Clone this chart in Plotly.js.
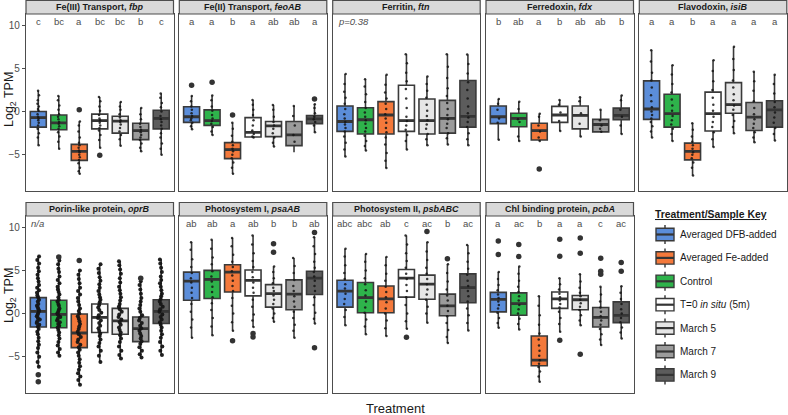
<!DOCTYPE html>
<html><head><meta charset="utf-8">
<script src="https://cdn.plot.ly/plotly-3.0.1.min.js"></script>
<style>html,body{margin:0;padding:0;background:#fff}#chart{width:788px;height:415px}</style>
</head><body><div id="chart"></div>
<script>
// ---------------- DATA ----------------
const treatments = ['Averaged DFB-added','Control','Averaged Fe-added','T=0 in situ (5m)','March 5','March 7','March 9'];
const legendLabels = ['Averaged DFB-added','Averaged Fe-added','Control','T=0 <i>in situ</i> (5m)','March 5','March 7','March 9'];
const legendIndex = [0,2,1,3,4,5,6];
const panelTitles = ['Fe(III) Transport, <i>fbp</i>','Fe(II) Transport, <i>feoAB</i>','Ferritin, <i>ftn</i>','Ferredoxin, <i>fdx</i>','Flavodoxin, <i>isiB</i>',
  'Porin-like protein, <i>oprB</i>','Photosystem I, <i>psaAB</i>','Photosystem II, <i>psbABC</i>','Chl binding protein, <i>pcbA</i>'];
const panelNotes = ['','','p=0.38','','','n/a','','',''];
const letters = [
  ['c','bc','a','bc','bc','b','c'],
  ['a','a','b','a','ab','ab','a'],
  [],
  ['b','ab','a','b','ab','ab','b'],
  ['a','a','b','a','a','a','a'],
  [],
  ['ab','ab','a','ab','b','b','ab'],
  ['abc','abc','ab','c','ac','b','ac'],
  ['a','ac','b','a','a','c','ac']
];
const upperWhisker = [
  [2.4,1.8,-1.15,1.7,1.1,0.4,2.1],
  [1.8,1.85,-1.3,1.35,0.75,0.65,0.85],
  [4.35,3.75,4.25,6.65,4.05,6.65,6.6],
  [1.45,1.15,-0.25,1.35,1.65,0.2,1.85],
  [7.1,5.35,-1.35,5.95,7.5,4.6,4.25],
  [6.65,6.15,5.0,5.7,6.05,3.75,6.25],
  [8.25,8.55,8.75,9.05,5.45,6.45,8.85],
  [7.5,6.9,6.55,9.05,8.25,5.7,7.95],
  [4.8,5.45,2.0,4.1,4.55,3.1,3.15]
];
const upperQuartile = [
  [0,-0.4,-3.8,-0.3,-0.55,-1.35,0.15],
  [0.55,0.2,-3.6,-0.7,-1.15,-1.15,-0.45],
  [0.65,0.45,1.15,3.05,1.45,1.3,3.6],
  [0.65,-0.2,-1.35,0.6,0.65,-0.9,0.4],
  [3.55,2.0,-3.65,2.25,3.35,1.05,1.25],
  [1.85,1.55,-0.05,1.1,0.6,-0.4,1.6],
  [4.8,5.0,5.65,5.05,3.35,3.9,4.9],
  [3.85,3.6,3.2,5.1,4.45,2.25,4.6],
  [2.45,2.4,-2.6,2.5,2.1,0.7,1.35]
];
const medians = [
  [-0.7,-1.3,-4.6,-1.05,-1.1,-2.2,-0.8],
  [-0.6,-1.05,-4.4,-2.4,-1.65,-2.7,-0.85],
  [-1.15,-0.95,-0.4,-1.05,-1.05,-0.8,-0.55],
  [-0.6,-0.8,-2.2,-0.4,-0.45,-1.5,-0.45],
  [0.3,-0.25,-4.6,-0.25,0.8,-0.65,0.2],
  [0.25,-0.1,-2.25,-0.45,-0.85,-1.75,0.25],
  [3.75,3.95,4.8,3.85,2.3,2.25,4.1],
  [2.6,1.85,1.7,4.1,3.4,0.9,3.0],
  [1.65,1.15,-5.4,1.7,1.6,-0.45,-0.2]
];
const lowerQuartile = [
  [-1.8,-2.1,-5.65,-2.0,-2.5,-3.25,-2.0],
  [-1.25,-1.6,-5.45,-2.95,-2.9,-3.95,-1.4],
  [-2.3,-2.6,-2.6,-2.3,-2.6,-2.5,-1.8],
  [-1.4,-1.75,-3.3,-1.25,-2.0,-2.35,-0.95],
  [-0.9,-1.8,-5.6,-2.25,-0.2,-2.2,-1.8],
  [-1.55,-1.65,-3.95,-2.2,-2.4,-3.25,-1.15],
  [1.55,1.75,2.5,2.05,0.75,0.45,2.2],
  [0.75,0.1,0.1,1.9,1.65,-0.25,1.25],
  [0.2,-0.2,-6.05,0.6,0.45,-1.55,-1.05]
];
const lowerWhisker = [
  [-3.9,-4.3,-7.2,-4.2,-3.95,-4.6,-5.0],
  [-2.05,-2.7,-7.2,-3.0,-4.05,-4.7,-2.4],
  [-5.2,-4.5,-6.55,-4.4,-3.9,-3.8,-3.9],
  [-3.25,-3.4,-3.4,-2.25,-2.9,-2.35,-2.6],
  [-3.0,-3.4,-7.4,-4.1,-2.5,-3.55,-3.35],
  [-6.15,-4.9,-8.25,-5.6,-5.2,-5.1,-4.8],
  [-2.8,-2.5,-2.0,-1.55,-0.95,-2.8,-1.15],
  [-1.35,-2.4,-2.6,-1.75,-1.05,-3.4,-1.95],
  [-1.65,-1.85,-7.9,-2.1,-1.35,-3.65,-2.9]
];
const outliers = [
  [[],[],[0.2],[-5.05],[],[],[]],
  [[3.05],[3.4],[-0.4],[],[],[],[1.45]],
  [[],[],[],[],[],[],[]],
  [[],[],[-6.65],[],[],[],[]],
  [[],[],[],[],[],[],[]],
  [[-7.1,-7.9],[6.55],[6.15],[],[],[4.1],[]],
  [[],[],[-3.15],[-2.3,-2.7],[8.1,7.1],[],[9.4,-3.95]],
  [[],[],[],[-2.75],[9.5],[6.35],[]],
  [[8.4,6.85],[8.0,6.6],[],[8.6,6.65,-3.1],[8.75,7.0,-4.7],[6.4,4.9,4.55],[5.9,4.9]]
];
const ptsFbp = [
  [2.4,1.9,1.3,0.9,0.6,0.3,0.1,-0.3,-0.6,-0.8,-1.0,-1.3,-1.6,-2.0,-2.5,-3.0,-3.9],
  [1.8,1.3,0.7,0.2,-0.3,-0.6,-0.9,-1.2,-1.4,-1.7,-2.0,-2.4,-2.9,-3.5,-4.3],
  [-1.15,-1.6,-2.3,-3.0,-3.6,-3.9,-4.2,-4.5,-4.7,-5.0,-5.3,-5.6,-6.0,-6.5,-6.9,-7.2],
  [1.7,1.2,0.6,0.1,-0.4,-0.8,-1.0,-1.3,-1.6,-1.9,-2.2,-2.7,-3.3,-4.2],
  [1.1,0.6,0.2,-0.3,-0.7,-1.0,-1.2,-1.5,-1.9,-2.3,-2.7,-3.2,-3.95],
  [0.4,-0.3,-0.9,-1.4,-1.8,-2.1,-2.4,-2.7,-3.0,-3.3,-3.7,-4.2,-4.6],
  [2.1,1.6,1.0,0.5,0.0,-0.5,-0.9,-1.2,-1.6,-2.0,-2.5,-3.0,-3.7,-4.3,-5.0]
];
const ptsFeoAB = [
  [1.8,1.2,0.6,0.2,-0.2,-0.5,-0.8,-1.0,-1.3,-1.7,-2.05],
  [1.85,1.3,0.6,0.1,-0.4,-0.8,-1.1,-1.4,-1.8,-2.3,-2.7],
  [-1.3,-2.0,-2.8,-3.5,-3.9,-4.3,-4.6,-5.0,-5.4,-5.9,-6.5,-7.2],
  [1.35,0.8,0.2,-0.4,-1.0,-1.6,-2.2,-2.6,-2.9,-3.0],
  [0.75,0.2,-0.6,-1.2,-1.6,-2.0,-2.5,-3.0,-3.6,-4.05],
  [0.65,-0.5,-1.6,-2.7,-3.5],
  [0.85,0.4,-0.2,-0.6,-0.9,-1.2,-1.6,-2.4]
];
const ptsFtn = [
  [4.35,3.2,2.3,1.6,0.9,0.3,-0.3,-0.8,-1.2,-1.5,-1.9,-2.3,-2.9,-3.6,-4.4,-5.2],
  [3.75,2.9,2.0,1.1,0.4,-0.1,-0.6,-1.0,-1.4,-1.9,-2.3,-2.8,-3.4,-4.0,-4.5],
  [4.25,3.1,2.2,1.5,0.9,0.3,-0.3,-0.8,-1.3,-1.9,-2.4,-3.0,-3.8,-4.8,-5.7,-6.55],
  [6.65,5.6,4.5,3.5,2.6,1.5,0.4,-0.6,-1.1,-1.6,-2.1,-2.7,-3.4,-4.4],
  [4.05,3.2,2.4,1.6,0.8,0.1,-0.5,-1.0,-1.5,-2.0,-2.6,-3.2,-3.9],
  [6.65,5.2,3.9,2.7,1.8,1.0,0.3,-0.4,-0.9,-1.4,-1.9,-2.5,-3.1,-3.8],
  [6.6,5.5,4.4,3.4,2.5,1.5,0.6,-0.2,-0.7,-1.2,-1.8,-2.5,-3.2,-3.9]
];
const ptsFdx = [
  [1.45,0.9,0.2,-0.8,-1.3,-3.25],
  [1.15,0.3,-0.9,-1.2,-2.9,-3.4],
  [-0.25,-0.6,-1.6,-2.3,-3.0,-3.4],
  [1.35,0.8,-0.1,-1.1,-2.25],
  [1.65,1.2,-0.2,-1.4,-2.9],
  [0.2,-1.0,-1.6,-2.0,-2.35],
  [1.85,1.3,0.2,-0.6,-1.6,-2.6]
];
const ptsIsiB = [
  [7.1,5.8,4.5,3.6,2.8,1.9,1.2,0.5,0.0,-0.4,-0.8,-1.2,-1.7,-2.3,-3.0],
  [5.35,4.3,3.2,2.2,1.4,0.7,0.1,-0.5,-1.0,-1.5,-2.0,-2.6,-3.4],
  [-1.35,-2.1,-2.9,-3.5,-3.9,-4.3,-4.7,-5.0,-5.4,-5.9,-6.5,-7.4],
  [5.95,4.7,3.5,2.5,1.6,0.8,0.1,-0.6,-1.2,-1.8,-2.4,-3.2,-4.1],
  [7.5,6.1,4.8,3.6,2.8,2.0,1.3,0.7,0.2,-0.4,-1.1,-1.8,-2.5],
  [4.6,3.5,2.4,1.2,0.4,-0.3,-0.9,-1.4,-1.9,-2.4,-3.0,-3.55],
  [4.25,3.2,2.1,1.1,0.5,-0.1,-0.7,-1.3,-1.9,-2.6,-3.35]
];
const ptsOprB = [
  [6.6,6.2,5.8,5.3,4.9,4.5,4.1,3.7,3.3,3.0,2.7,2.4,2.1,1.9,1.6,1.4,1.1,0.9,0.7,0.5,0.3,0.1,-0.1,-0.3,-0.5,-0.7,-0.9,-1.1,-1.3,-1.5,-1.8,-2.1,-2.4,-2.8,-3.2,-3.6,-4.0,-4.5,-5.0,-5.6,-6.15],
  [6.15,5.7,5.2,4.8,4.3,3.9,3.5,3.1,2.8,2.5,2.2,1.9,1.6,1.4,1.1,0.9,0.6,0.4,0.2,0.0,-0.2,-0.4,-0.6,-0.8,-1.0,-1.2,-1.4,-1.6,-1.9,-2.2,-2.5,-2.9,-3.3,-3.7,-4.1,-4.5,-4.9],
  [5.0,4.5,4.0,3.5,3.0,2.6,2.2,1.8,1.4,1.0,0.6,0.3,0.0,-0.3,-0.6,-0.9,-1.2,-1.5,-1.8,-2.1,-2.4,-2.7,-3.0,-3.3,-3.6,-3.9,-4.2,-4.5,-4.9,-5.3,-5.7,-6.1,-6.5,-6.9,-7.3,-7.7,-8.25],
  [5.7,5.2,4.7,4.2,3.8,3.4,3.0,2.6,2.2,1.9,1.6,1.3,1.0,0.7,0.4,0.1,-0.2,-0.5,-0.8,-1.1,-1.4,-1.7,-2.0,-2.3,-2.6,-3.0,-3.4,-3.8,-4.3,-4.9,-5.6],
  [6.05,5.6,5.1,4.6,4.1,3.6,3.1,2.7,2.3,1.9,1.5,1.1,0.8,0.5,0.2,-0.1,-0.4,-0.7,-1.0,-1.3,-1.6,-1.9,-2.2,-2.5,-2.9,-3.3,-3.8,-4.3,-4.8,-5.2],
  [3.75,3.3,2.8,2.3,1.8,1.4,1.0,0.6,0.2,-0.2,-0.5,-0.8,-1.1,-1.4,-1.7,-2.0,-2.3,-2.6,-2.9,-3.2,-3.5,-3.9,-4.3,-4.7,-5.1],
  [6.25,5.8,5.3,4.8,4.3,3.9,3.5,3.1,2.7,2.3,2.0,1.7,1.4,1.1,0.8,0.5,0.2,-0.1,-0.4,-0.7,-1.0,-1.3,-1.6,-2.0,-2.4,-2.8,-3.3,-3.8,-4.3,-4.8]
];
const ptsPsaAB = [
  [8.25,7.4,6.3,5.4,4.7,4.1,3.6,3.0,2.4,1.8,1.1,0.2,-0.7,-1.6,-2.8],
  [8.55,7.5,6.5,5.7,4.9,4.3,3.7,3.1,2.5,1.9,1.2,0.4,-0.5,-1.5,-2.5],
  [8.75,7.8,6.8,6.0,5.4,4.9,4.4,3.8,3.2,2.6,1.8,0.9,0.0,-1.0,-2.0],
  [9.05,8.0,7.0,6.1,5.4,4.8,4.2,3.6,3.0,2.4,1.6,0.8,-0.1,-0.8,-1.55],
  [5.45,4.8,4.1,3.5,3.0,2.6,2.1,1.6,1.1,0.6,0.0,-0.5,-0.95],
  [6.45,5.5,4.7,3.9,3.2,2.6,2.0,1.4,0.8,0.2,-0.5,-1.3,-2.0,-2.8],
  [8.85,7.8,6.9,6.0,5.3,4.8,4.3,3.8,3.2,2.6,1.9,1.0,0.1,-0.6,-1.15]
];
const ptsPsbABC = [
  [7.5,6.6,5.6,4.7,4.0,3.4,2.9,2.3,1.7,1.1,0.4,-0.4,-1.35],
  [6.9,6.0,5.0,4.1,3.4,2.7,2.1,1.4,0.7,0.1,-0.7,-1.5,-2.4],
  [6.55,5.6,4.6,3.8,3.1,2.5,1.9,1.3,0.6,0.0,-0.8,-1.7,-2.6],
  [9.05,8.0,7.0,6.1,5.3,4.6,4.0,3.3,2.6,1.9,1.0,0.0,-0.9,-1.75],
  [8.25,7.2,6.2,5.3,4.6,4.0,3.4,2.8,2.2,1.6,0.8,0.0,-1.05],
  [5.7,4.7,3.7,2.8,2.1,1.5,0.9,0.3,-0.3,-1.1,-1.9,-2.7,-3.4],
  [7.95,7.0,6.0,5.2,4.5,3.8,3.2,2.6,2.0,1.4,0.6,-0.2,-1.1,-1.95]
];
const ptsPcbA = [
  [4.8,4.0,3.3,2.7,2.2,1.8,1.4,1.0,0.6,0.1,-0.5,-1.1,-1.65],
  [5.45,4.6,3.8,3.1,2.5,2.0,1.5,1.0,0.5,0.0,-0.6,-1.2,-1.85],
  [2.0,0.9,-0.2,-1.3,-2.3,-3.0,-3.7,-4.3,-4.9,-5.4,-5.8,-6.2,-6.7,-7.3,-7.9],
  [4.1,3.4,2.8,2.3,1.9,1.5,1.1,0.7,0.2,-0.5,-1.2,-2.1],
  [4.55,3.7,3.0,2.4,2.0,1.6,1.2,0.8,0.4,-0.2,-0.8,-1.35],
  [3.1,2.2,1.4,0.7,0.2,-0.3,-0.8,-1.3,-1.8,-2.4,-3.0,-3.65],
  [3.15,2.4,1.7,1.1,0.5,0.0,-0.5,-1.0,-1.6,-2.2,-2.9]
];
const points = [ptsFbp, ptsFeoAB, ptsFtn, ptsFdx, ptsIsiB, ptsOprB, ptsPsaAB, ptsPsbABC, ptsPcbA];
const yTicks = [-5, 0, 5, 10];

// ---------------- STYLE ----------------
const fills = ['#5b8dd9','#2eb34b','#f4793b','#ffffff','#e6e6e6','#9b9b9b','#5c5c5c'];
const W = 788, H = 415;
const colLeft = [26, 179.3, 332.7, 486, 639.3], panelW = 147.5;
const rowTop = [14, 216], rowBot = [191, 393], stripH = 13.5;
const FONT = 'Liberation Sans, Arial, sans-serif';
const edge = '#3a3a3a';
const px = x => x / W, py = y => 1 - y / H;

const data = [], shapes = [], annotations = [];
const layout = {width: W, height: H, margin: {l:0, r:0, t:0, b:0}, paper_bgcolor:'#fff', plot_bgcolor:'#fff',
  showlegend:false, boxmode:'overlay', font:{family:FONT, color:'#1a1a1a'}};

for (let k = 0; k < 9; k++) {
  const row = k < 5 ? 0 : 1, col = k < 5 ? k : k - 5, n = k + 1;
  const xa = 'x' + (n === 1 ? '' : n), ya = 'y' + (n === 1 ? '' : n);
  const plotH = rowBot[row] - rowTop[row];
  layout['xaxis' + (n === 1 ? '' : n)] = {domain:[px(colLeft[col]), px(colLeft[col] + panelW)], range:[0.4, 7.6],
    showticklabels:false, ticks:'', showgrid:false, zeroline:false, showline:true, mirror:true,
    linecolor:'#4d4d4d', linewidth:1.2, anchor:ya, fixedrange:true};
  layout['yaxis' + (n === 1 ? '' : n)] = {domain:[py(rowBot[row]), py(rowTop[row])], range:[-9.2, 11.3],
    tickmode:'array', tickvals:yTicks, ticks: col === 0 ? 'outside' : '', ticklen:3, tickwidth:1, tickcolor:'#4d4d4d',
    showticklabels: col === 0, tickfont:{size:10, color:'#4d4d4d', family:FONT},
    showgrid:false, zeroline:false, showline:true, mirror:true, linecolor:'#4d4d4d', linewidth:1.2, anchor:xa, fixedrange:true};

  for (let i = 0; i < 7; i++) {
    data.push({type:'box', xaxis:xa, yaxis:ya, x:[i + 1], q1:[lowerQuartile[k][i]], median:[medians[k][i]],
      q3:[upperQuartile[k][i]], lowerfence:[lowerWhisker[k][i]], upperfence:[upperWhisker[k][i]],
      fillcolor:fills[i], line:{color:edge, width:1.6}, width:0.78, whiskerwidth:0, boxpoints:false, hoverinfo:'skip'});
    data.push({type:'box', xaxis:xa, yaxis:ya, x:[i + 1], q1:[medians[k][i]], median:[medians[k][i]],
      q3:[medians[k][i]], lowerfence:[medians[k][i]], upperfence:[medians[k][i]],
      fillcolor:'rgba(0,0,0,0)', line:{color:'#353535', width:2.8}, width:0.78, whiskerwidth:0, boxpoints:false, hoverinfo:'skip'});
  }
  for (let i = 0; i < 7; i++) {
    data.push({type:'box', xaxis:xa, yaxis:ya, y:points[k][i], x0:i + 1, width:0.78, boxpoints:'all',
      jitter: k === 5 ? 0.22 : 0.12, pointpos:0,
      fillcolor:'rgba(0,0,0,0)', line:{width:0, color:'rgba(0,0,0,0)'}, whiskerwidth:0,
      marker:{size: k === 5 ? 4 : 2.5, color:'#151515', opacity: k === 5 ? 0.95 : 0.85}, hoverinfo:'skip'});
  }
  const ox = [], oy = [];
  outliers[k].forEach((arr, i) => arr.forEach(v => { ox.push(i + 1); oy.push(v); }));
  data.push({type:'scatter', mode:'markers', xaxis:xa, yaxis:ya, x:ox, y:oy, marker:{size:5.5, color:'#333'}, hoverinfo:'skip'});

  // strip
  shapes.push({type:'rect', xref:xa + ' domain', yref:ya + ' domain', x0:0, x1:1, y0:1, y1:1 + stripH / plotH,
    fillcolor:'#d9d9d9', line:{color:'#4d4d4d', width:1.2}, layer:'above'});
  annotations.push({xref:xa + ' domain', yref:ya + ' domain', x:0.5, y:1 + stripH / 2 / plotH, text:'<b>' + panelTitles[k] + '</b>',
    showarrow:false, font:{size:9, color:'#1a1a1a', family:FONT}, xanchor:'center', yanchor:'middle'});
  letters[k].forEach((t, i) => annotations.push({xref:xa, yref:ya, x:i + 1, y:10.45, text:t, showarrow:false,
    font:{size:9.5, color:'#4d4d4d', family:FONT}, xanchor:'center', yanchor:'middle'}));
  if (panelNotes[k]) annotations.push({xref:xa + ' domain', yref:ya, x:0.02, y:10.45, text:'<i>' + panelNotes[k] + '</i>',
    showarrow:false, font:{size:9.5, color:'#4d4d4d', family:FONT}, xanchor:'left', yanchor:'middle'});
}

// axis titles
[100, 296].forEach(cy => annotations.push({xref:'paper', yref:'paper', x:px(10), y:py(cy), text:'Log<sub>2</sub> TPM', textangle:-90,
  showarrow:false, font:{size:12.5, color:'#1a1a1a', family:FONT}, xanchor:'center', yanchor:'middle'}));
annotations.push({xref:'paper', yref:'paper', x:px(396), y:py(408), text:'Treatment', showarrow:false,
  font:{size:13, color:'#1a1a1a', family:FONT}, xanchor:'center', yanchor:'middle'});

// legend (manual key)
annotations.push({xref:'paper', yref:'paper', x:px(653), y:py(214.5), text:'<b><u>Treatment/Sample Key</u></b>', showarrow:false,
  font:{size:10.4, color:'#1a1a1a', family:FONT}, xanchor:'left', yanchor:'middle'});
legendIndex.forEach((ti, j) => {
  const cy = 234.5 + j * 23.4;
  shapes.push({type:'line', xref:'paper', yref:'paper', x0:px(665), x1:px(665), y0:py(cy - 9.5), y1:py(cy + 9.5), line:{color:'#333', width:1.4}});
  shapes.push({type:'rect', xref:'paper', yref:'paper', x0:px(656), x1:px(674), y0:py(cy + 6.2), y1:py(cy - 6.2), fillcolor:fills[ti], line:{color:edge, width:1.4}});
  shapes.push({type:'line', xref:'paper', yref:'paper', x0:px(656), x1:px(674), y0:py(cy), y1:py(cy), line:{color:'#353535', width:2.2}});
  annotations.push({xref:'paper', yref:'paper', x:px(678), y:py(cy), text:legendLabels[j], showarrow:false,
    font:{size:10, color:'#1a1a1a', family:FONT}, xanchor:'left', yanchor:'middle'});
});

layout.shapes = shapes;
layout.annotations = annotations;
Plotly.newPlot('chart', data, layout, {staticPlot:true, displayModeBar:false});
</script>
</body></html>
